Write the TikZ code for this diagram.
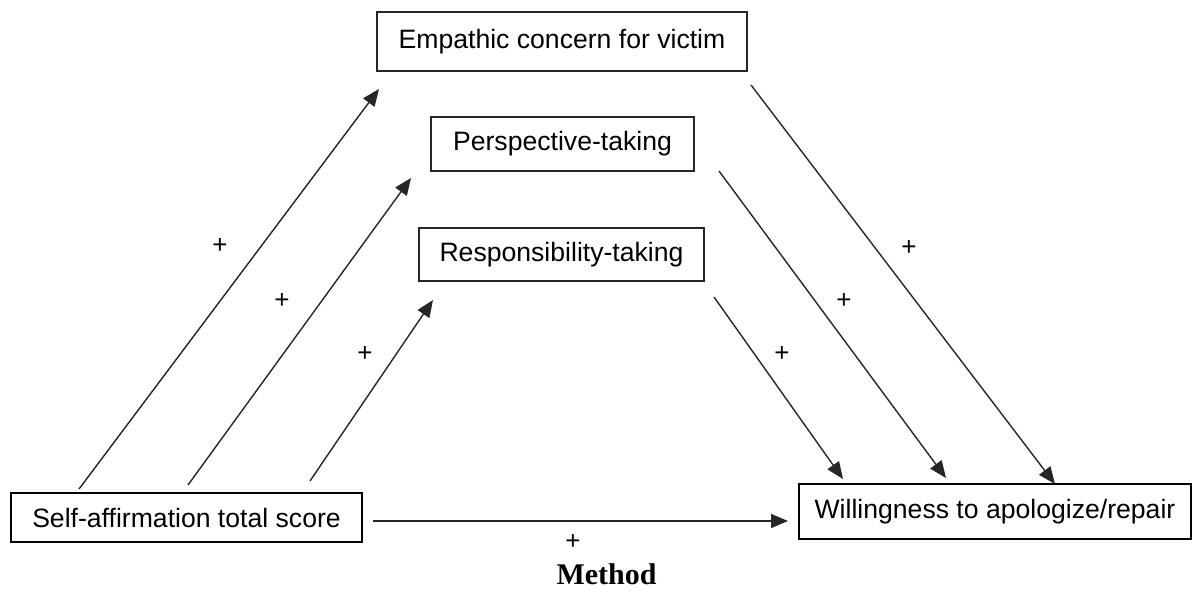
\documentclass[tikz,border=0pt]{standalone}
\usepackage{fontspec}
\setmainfont{Liberation Sans}
\newfontfamily\methodfont{Liberation Serif}
\usetikzlibrary{arrows.meta}
\begin{document}
\begin{tikzpicture}[x=1pt,y=-1pt,
  box/.style={draw=black!85,line width=1.3pt,inner sep=0pt,font=\fontsize{26.6}{30}\selectfont},
  mainbox/.style={box,draw=black,line width=2.8pt},
  arr/.style={draw=black!85,line width=1.4pt,-{Triangle[length=17pt,width=14pt]}},
  plus/.style={font=\fontsize{26}{26}\selectfont,inner sep=0pt}]
\useasboundingbox (0,0) rectangle (1193,591);
% boxes
\node[box,minimum width=370pt,minimum height=59pt] (emp) at (562,41.5) {Empathic concern for victim};
\node[box,minimum width=263pt,minimum height=54pt] (persp) at (562.5,144) {Perspective-taking};
\node[box,minimum width=285pt,minimum height=53pt] (resp) at (561.5,254.5) {Responsibility-taking};
\node[mainbox,minimum width=351pt,minimum height=49pt] (self) at (186.5,517.5) {Self-affirmation total score};
\node[mainbox,minimum width=392pt,minimum height=55pt] (will) at (995,511.5) {Willingness to apologize/repair};
\node[anchor=base,inner sep=0pt,font=\methodfont\bfseries\fontsize{30}{30}\selectfont] (method) at (606.5,584) {Method};
% connector end points
\coordinate (s1) at (79,489);  \coordinate (e1) at (379,89);
\coordinate (s2) at (188,485); \coordinate (e2) at (411,178);
\coordinate (s3) at (310,481); \coordinate (e3) at (433,300);
\coordinate (s4) at (751,85);  \coordinate (e4) at (1055,484);
\coordinate (s5) at (719,171); \coordinate (e5) at (946,478);
\coordinate (s6) at (714,297); \coordinate (e6) at (843,479);
\coordinate (s7) at (373,521); \coordinate (e7) at (788,521);
% connectors
\draw[arr] (s1) -- (e1);
\draw[arr] (s2) -- (e2);
\draw[arr] (s3) -- (e3);
\draw[arr] (s4) -- (e4);
\draw[arr] (s5) -- (e5);
\draw[arr] (s6) -- (e6);
\draw[arr] (s7) -- (e7);
% labels
\node[plus] (p1) at (220,246) {+};
\node[plus] (p2) at (282,301) {+};
\node[plus] (p3) at (365,354) {+};
\node[plus] (p4) at (909,248) {+};
\node[plus] (p5) at (844,301) {+};
\node[plus] (p6) at (782,354) {+};
\node[plus] (p7) at (573,542) {+};
\end{tikzpicture}
\end{document}
